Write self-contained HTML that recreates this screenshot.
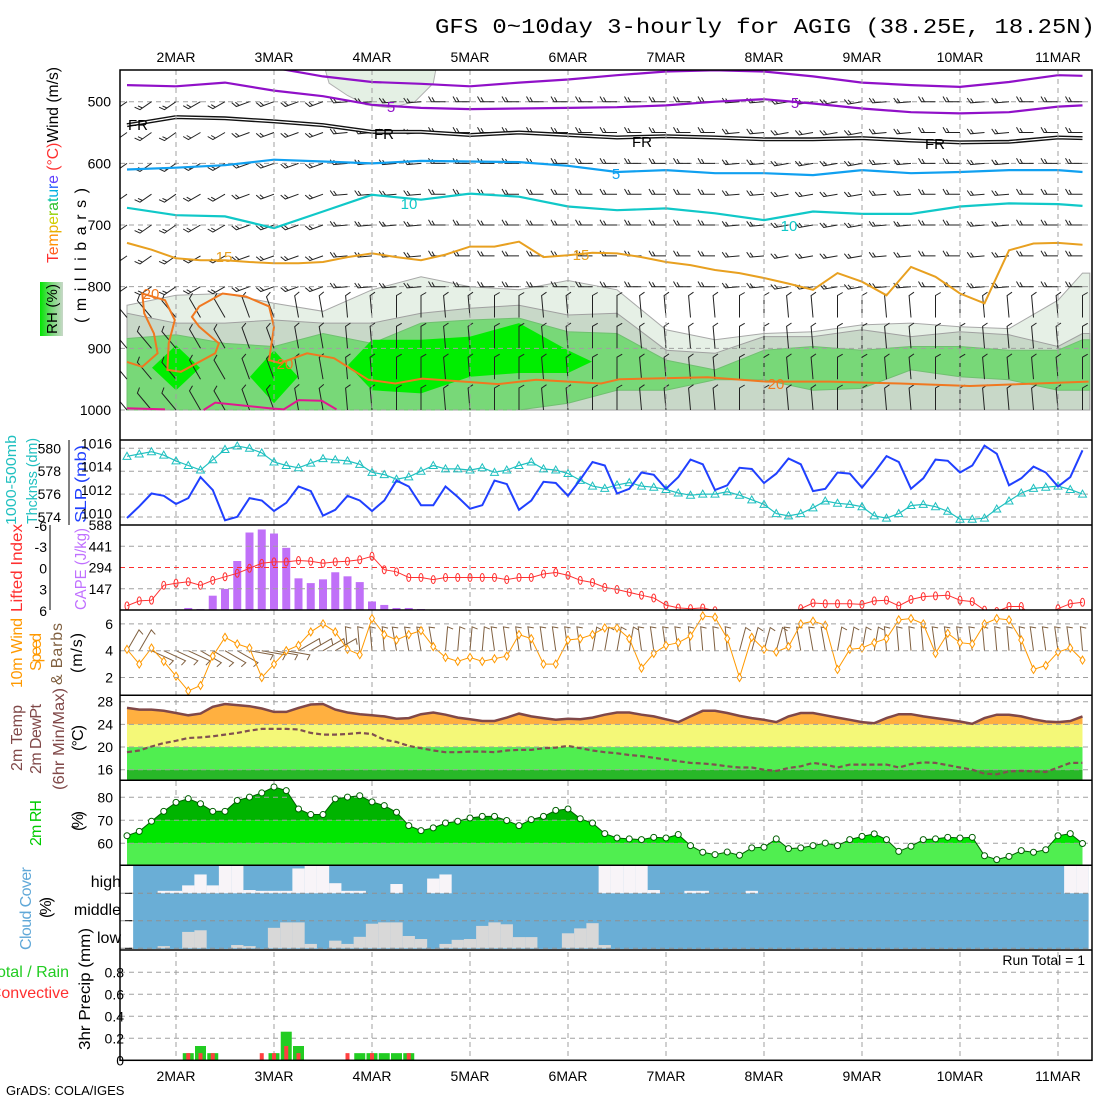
<!DOCTYPE html>
<html><head><meta charset="utf-8"><title>GFS meteogram AGIG</title>
<style>
html,body{margin:0;padding:0;background:#fff;width:1100px;height:1100px;overflow:hidden}
svg{display:block;font-family:"Liberation Sans",sans-serif}
.tk{font-size:14px;fill:#000}
.lab{font-size:16px}
</style></head>
<body>
<svg id="chart" width="1100" height="1100" viewBox="0 0 1100 1100" xmlns="http://www.w3.org/2000/svg">
<defs>
<clipPath id="c1"><rect x="120" y="70" width="972" height="370"/></clipPath>
<clipPath id="c2"><rect x="120" y="440" width="972" height="85"/></clipPath>
<clipPath id="c3"><rect x="120" y="525" width="972" height="85"/></clipPath>
<clipPath id="c4"><rect x="120" y="610" width="972" height="85"/></clipPath>
<linearGradient id="rhg" x1="0" x2="1" y1="0" y2="0"><stop offset="0" stop-color="#00e600"/><stop offset="0.5" stop-color="#78d878"/><stop offset="1" stop-color="#c8d8c8"/></linearGradient>
</defs>
<text x="435" y="33" font-family="Liberation Mono, monospace" font-size="21" textLength="660" lengthAdjust="spacingAndGlyphs">GFS 0~10day 3-hourly for AGIG (38.25E, 18.25N)</text>

<!-- left labels -->
<text transform="translate(58,263) rotate(-90)" font-size="16" textLength="196" lengthAdjust="spacingAndGlyphs"><tspan fill="#ff3030">T</tspan><tspan fill="#ff6020">e</tspan><tspan fill="#ff9000">m</tspan><tspan fill="#e8b000">p</tspan><tspan fill="#d0d000">e</tspan><tspan fill="#90d000">r</tspan><tspan fill="#30c030">a</tspan><tspan fill="#00c0a0">t</tspan><tspan fill="#00b0e0">u</tspan><tspan fill="#2060ff">r</tspan><tspan fill="#6040ff">e</tspan><tspan fill="#ff3030"> (°C)</tspan><tspan fill="#000">Wind (m/s)</tspan></text>
<text transform="translate(86,323) rotate(-90)" font-size="16" textLength="135" lengthAdjust="spacing">(millibars)</text>
<rect x="40" y="282" width="23" height="54" fill="url(#rhg)"/>
<text transform="translate(57,334) rotate(-90)" font-size="15" textLength="50">RH (%)</text>

<text transform="translate(16,525) rotate(-90)" font-size="15" fill="#20c0c0" textLength="90" lengthAdjust="spacingAndGlyphs">1000-500mb</text>
<text transform="translate(37,524) rotate(-90)" font-size="15" fill="#20c0c0" textLength="86" lengthAdjust="spacingAndGlyphs">Thcknss (dm)</text>
<text transform="translate(86,523) rotate(-90)" font-size="16" fill="#2040ff" textLength="78" lengthAdjust="spacingAndGlyphs">SLP (mb)</text>
<text transform="translate(22,612) rotate(-90)" font-size="16" fill="#ff3030" textLength="88" lengthAdjust="spacingAndGlyphs">Lifted Index</text>
<text transform="translate(86,610) rotate(-90)" font-size="16" fill="#c070ff" textLength="82" lengthAdjust="spacingAndGlyphs">CAPE (J/kg)</text>
<text transform="translate(22,688) rotate(-90)" font-size="16" fill="#ff9900" textLength="70">10m Wind</text>
<text transform="translate(41,671) rotate(-90)" font-size="16" fill="#ff9900" textLength="38">Speed</text>
<text transform="translate(62,685) rotate(-90)" font-size="16" fill="#806040" textLength="62">&amp; Barbs</text>
<text transform="translate(82,673) rotate(-90)" font-size="16" textLength="40">(m/s)</text>
<text transform="translate(22,771) rotate(-90)" font-size="16" fill="#804848" textLength="66">2m Temp</text>
<text transform="translate(41,774) rotate(-90)" font-size="16" fill="#804848" textLength="70">2m DewPt</text>
<text transform="translate(64,790) rotate(-90)" font-size="16" fill="#804848" textLength="102" lengthAdjust="spacingAndGlyphs">(6hr Min/Max)</text>
<text transform="translate(83,751) rotate(-90)" font-size="16" textLength="26">(°C)</text>
<text transform="translate(41,846) rotate(-90)" font-size="16" fill="#00cc00" textLength="46">2m RH</text>
<text transform="translate(83,831) rotate(-90)" font-size="16" textLength="20">(%)</text>
<text transform="translate(31,950) rotate(-90)" font-size="16" fill="#60a8d8" textLength="83">Cloud Cover</text>
<text transform="translate(51,918) rotate(-90)" font-size="16" textLength="21">(%)</text>
<text x="121" y="887" font-size="16" text-anchor="end">high</text>
<text x="121" y="915" font-size="16" text-anchor="end">middle</text>
<text x="121" y="943" font-size="16" text-anchor="end">low</text>
<text x="69" y="977" font-size="16" fill="#22cc22" text-anchor="end">Total / Rain</text>
<text x="69" y="998" font-size="16" fill="#ff3030" text-anchor="end">Convective</text>
<text transform="translate(90,1050) rotate(-90)" font-size="16" textLength="122" lengthAdjust="spacingAndGlyphs">3hr Precip (mm)</text>
<text x="1085" y="965" font-size="14" text-anchor="end">Run Total = 1</text>
<text x="6" y="1095" font-size="13">GrADS: COLA/IGES</text>
</svg>
<script>
// ---------------- data ----------------
const dayLabels = ['2MAR','3MAR','4MAR','5MAR','6MAR','7MAR','8MAR','9MAR','10MAR','11MAR'];
const pLevels = [500,600,700,800,900,1000];
// cross-section coarse time grid (3-hourly step index)
const cIdx = [0,4,8,12,16,20,24,28,32,36,40,44,48,52,56,60,64,68,72,76,78];
const rh30Top = [830,814,811,827,840,805,784,800,805,790,805,870,886,876,873,862,859,865,868,822,778];
const rh50Top = [843,859,859,854,859,859,843,835,830,846,843,903,908,881,881,870,881,873,878,897,876];
const rh70Top = [884,878,892,897,876,892,859,854,851,873,876,919,935,903,897,903,897,897,903,903,886];
const rh70Bot = [1000,1000,1000,1000,1000,1000,1000,1000,1000,989,968,968,951,951,968,965,935,946,951,968,968];
const rh80Top = [null,895,null,903,null,886,886,881,859,903,null,null,null,null,null,null,null,null,null,null,null];
const rh80Bot = [null,968,null,989,null,968,973,946,940,940,null,null,null,null,null,null,null,null,null,null,null];
const rhUpI = [16.2,25.2,25,23.5,21.5,19.5,18,16.5];
const rhUpP = [449,449,470,500,510,505,490,470];
const tM10 = [440,440,440,445,459,468,471,475,469,464,457,451,449,451,459,469,473,476,468,457,458];
const tM5 = [473,475,469,482,491,505,510,512,511,510,509,506,500,496,503,511,517,519,517,508,506];
const t0 = [538,525,527,532,538,549,549,554,550,554,558,556,558,561,561,559,563,566,565,558,559];
const t5 = [610,607,603,594,597,600,596,597,598,604,614,611,616,616,619,611,616,614,611,611,614];
const t10 = [672,684,686,705,678,651,659,649,654,670,676,673,681,692,678,682,682,670,665,666,669];
const t15 = [729,740,754,757,757,760,762,762,760,752,746,752,757,748,735,735,727,752,749,745,746,752,760,765,773,778,786,795,805,778,792,814,768,784,811,827,741,730,729,732];
const t20I = [0,1.25,2.5,2.2,1.4,1.25,3.1,3.9,3.4,3.3,4.4,7.2,7.5,5.9,5.3,5.9,7.8,9.7,11.6,12.0,11.6,12.5,14.7,16.9,19.7,21.9,24.1,30.3,33.4,38.7,40.2,47.4,52.2,57.4,63.1,68.8,78.5];
const t20P = [922,930,908,876,843,811,822,854,892,935,938,908,892,865,849,832,811,816,832,865,919,924,908,916,951,957,949,958,951,957,950,947,954,954,957,961,954];
const t25aI = [0,3.1], t25aP = [997,999];
const t25bI = [6.25,7.2,11.6,12.8,14,15.9,17.1], t25bP = [1000,988,997,999,984,985,999];
const barbLevels = [500,550,600,650,700,750,800,850,900,950,1000];
const barbDirUpper = [235,235,240,250,250,265,265,270,270,270,270,270,270,265,260,260,265,270,265,270,270];
const barbDirLower = [320,320,330,340,350,355,0,355,0,355,0,355,355,0,355,0,355,0,355,355,0];

const slp = [1009.6,1010.6,1011.7,1011.5,1010.8,1011.3,1013.1,1012.0,1009.4,1009.7,1011.3,1011.1,1010.2,1010.9,1012.3,1011.9,1009.8,1010.3,1011.5,1011.1,1010.2,1011.1,1012.8,1012.3,1010.7,1010.7,1012.3,1011.4,1010.4,1010.7,1012.8,1012.5,1010.3,1011.1,1012.7,1012.6,
1011.5,1012.9,1014.4,1014.1,1011.7,1012.1,1013.5,1013.3,1012.1,1013.1,1014.6,1014.2,1012.0,1012.4,1013.9,1013.8,1012.6,1013.4,1014.7,1014.2,1011.9,1012.1,1013.5,1013.4,1012.2,1013.5,1014.9,1014.4,1012.1,1013.0,1014.6,1014.5,1013.5,1014.1,1015.8,1015.1,1012.4,1013.0,1014.0,1013.5,1012.3,1013.1,1015.4];
const thick = [579.3,579.5,579.7,579.4,578.9,578.5,578.1,579.0,579.9,580.2,580.0,579.6,578.8,578.5,578.3,578.7,579.1,579.0,578.9,578.6,577.9,577.7,577.3,577.5,578.0,578.5,578.2,578.2,578.1,578.3,577.9,578.1,578.5,578.8,578.2,
578.1,577.8,577.2,576.7,576.5,576.8,577.0,576.7,576.6,576.4,576.1,575.9,576.0,576.0,576.2,575.9,575.5,575.1,574.3,574.1,574.3,574.8,575.4,575.2,575.1,574.9,574.1,573.9,574.3,575.0,575.1,574.9,574.5,573.8,573.8,573.9,574.7,575.4,576.1,576.5,576.6,576.7,576.4,576.0];
const slpTicks = [1016,1014,1012,1010];
const thickTicks = [580,578,576,574];
const liVals = [5.3,4.6,4.5,2.4,2.1,1.9,2.4,1.7,1.2,0.7,0.0,-0.7,-0.9,-0.9,-1.1,-1.0,-0.7,-0.9,-1.0,-1.2,-1.7,0.2,0.5,1.3,1.3,1.6,1.3,1.3,1.3,1.3,1.3,1.6,1.3,1.3,0.8,0.6,1.0,1.7,2.0,2.7,3.0,3.4,3.8,4.2,5.2,5.6,5.7,5.6,6.0,7,7,7,7,7,7,5.7,4.9,5.0,5.0,5.0,5.1,4.6,4.5,5.3,4.4,4.0,3.9,3.8,4.5,4.7,5.9,6.1,5.4,5.4,7,7,5.7,5.0,4.8];
const capeVals = [0,0,0,0,5,14,7,99,146,339,536,557,529,430,219,186,212,261,233,193,59,35,14,14,7,0,0,0,3,3,3,0,0,0,0,0,3,3,3,0,0,0,0,0,0,0,0,0,0,0,0,0,0,0,0,0,0,0,0,0,0,3,0,0,0,0,0,0,0,0,0,0,0,0,0,0,0,0,0];
const liTicks = ['-6','-3','0','3','6'];
const capeTicks = [588,441,294,147];
const windSpd = [4.1,3.0,4.2,3.2,2.1,1.0,1.4,3.6,5.0,4.5,4.2,2.0,3.0,4.0,4.4,5.4,6.0,5.4,4.1,3.7,6.4,5.2,4.8,5.2,5.5,4.3,3.5,3.2,3.5,3.2,3.4,3.6,5.2,4.9,3.0,3.0,
4.8,4.9,5.2,5.7,5.7,4.9,2.7,3.8,4.4,4.6,5.1,6.6,6.5,4.9,2.0,5.0,4.1,3.9,4.3,6.0,6.2,5.9,2.6,4.1,4.2,4.6,4.9,6.3,6.4,6.0,3.8,5.3,4.6,4.5,6.0,6.4,6.3,4.8,2.6,2.9,3.9,4.2,3.3];
const sfcBarbDir = [30,115,120,100,60,-5,-10,5,-8,-8,10,-8,-5,15,-10,10,-5,-8,-5,-8,-5];
const windTicks = [6,4,2];
const temp2m = [26.9,26.6,26.6,26.4,26.0,25.6,25.9,27.1,27.6,27.4,27.2,26.8,26.2,26.2,26.9,27.5,27.6,26.6,26.1,25.8,25.6,25.4,25.0,25.1,25.8,26.1,25.7,25.2,24.9,24.6,24.6,25.2,25.9,25.4,25.1,24.8,
25.0,24.9,25.2,25.7,26.1,26.1,25.7,25.4,24.9,24.4,25.4,26.4,26.4,26.0,25.5,25.1,24.8,24.4,25.4,26.0,26.0,25.6,25.2,24.8,24.4,24.2,25.1,25.8,25.8,25.4,25.1,24.8,24.5,24.1,25.1,25.7,25.7,25.4,24.9,24.5,24.4,24.6,25.4];
const dew2m = [19.1,19.4,20.1,20.7,21.1,21.6,21.7,21.9,22.2,22.5,22.9,23.2,23.2,23.2,23.1,22.5,22.2,22.2,22.3,22.5,22.3,21.3,20.9,20.2,19.8,19.4,19.1,19.1,19.2,19.2,19.1,19.4,19.5,19.5,19.8,19.9,20.2,
19.8,19.4,19.1,18.9,18.6,18.4,18.1,17.8,17.5,17.2,17.1,16.9,16.6,16.4,16.4,16.0,15.8,16.3,16.6,17.2,16.9,16.4,16.9,16.9,16.9,16.9,16.4,17.0,17.3,17.2,16.8,16.4,16.0,15.3,15.2,15.7,15.8,15.7,15.6,16.4,17.2,17.2];
const tempTicks = [28,24,20,16];
const rh2m = [63.3,65.2,69.6,73.9,77.8,79.4,77.2,73.9,73.9,78.6,80.1,81.9,84.5,82.9,74.9,72.5,72.5,79.3,80.1,80.7,78.0,76.4,73.5,67.7,65.5,66.7,68.8,69.6,71.0,71.7,71.7,69.9,67.7,70.3,71.7,74.3,
74.9,70.7,68.8,64.2,62.3,61.9,61.6,62.6,62.3,63.8,59.0,56.1,55.1,56.2,54.8,58.0,58.3,61.9,57.7,58.0,59.0,60.1,59.0,61.6,63.0,64.1,61.6,56.5,58.7,61.6,61.9,62.6,62.3,62.6,54.6,52.9,54.3,56.8,56.1,57.2,63.3,64.2,59.9];
const rhTicks = [80,70,60];
const cloudHigh = [0,0,0,9,9,29,69,29,100,100,12,9,9,9,91,100,100,37,9,9,0,0,34,0,0,54,69,0,0,0,0,0,0,0,0,0,0,0,0,100,100,100,100,12,0,0,9,9,0,0,0,9,0,0,0,0,0,0,0,0,0,0,0,0,0,0,0,0,0,0,0,0,0,0,0,0,0,100,100];
const cloudMid = new Array(79).fill(0);
const cloudLow = [0,0,0,8,0,60,66,0,0,12,8,0,75,95,95,16,0,28,16,42,90,95,95,45,34,0,16,31,34,82,95,88,41,41,0,0,55,73,92,12,0,0,0,0,0,0,0,0,0,0,0,0,0,0,0,0,0,0,0,0,0,0,0,0,0,0,0,0,0,0,0,0,0,0,0,0,0,0,0];
const precipTot = [0,0,0,0,0,0.065,0.13,0.065,0,0,0,0,0.065,0.26,0.13,0,0,0,0,0.065,0.065,0.065,0.065,0.065,0,0,0,0,0,0,0,0,0,0,0,0,0,0,0,0,0,0,0,0,0,0,0,0,0,0,0,0,0,0,0,0,0,0,0,0,0,0,0,0,0,0,0,0,0,0,0,0,0,0,0,0,0,0,0];
const precipConv = [0,0,0,0,0,0.065,0.065,0.065,0,0,0,0.065,0.065,0.13,0.065,0,0,0,0.065,0,0.065,0,0,0.065,0,0,0,0,0,0,0,0,0,0,0,0,0,0,0,0,0,0,0,0,0,0,0,0,0,0,0,0,0,0,0,0,0,0,0,0,0,0,0,0,0,0,0,0,0,0,0,0,0,0,0,0,0,0,0];
const precipTicks = ['0.8','0.6','0.4','0.2','0'];

// ---------------- scales ----------------
const svg = document.getElementById('chart');
const NS = 'http://www.w3.org/2000/svg';
const X = i => 127 + 12.25 * i;
const yP = p => 101.7 + (p - 500) * 0.6166;
const ySLP = v => 443.3 + (1016 - v) * 11.67;
const yTh = v => 448.3 + (580 - v) * 11.45;
const yLI = v => 568.3 + v * 7.08;
const yCAPE = v => 610 - v * 85 / 588;
const yWS = v => 650.7 - (v - 4) * 13.4;
const yT = v => 701.7 + (28 - v) * 5.67;
const yRH = v => 797.3 + (80 - v) * 2.3;
const yPr = v => 1060.3 - v * 110;

function mk(tag, a, parent) {
  const e = document.createElementNS(NS, tag);
  for (const k in a) e.setAttribute(k, a[k]);
  (parent || svg).appendChild(e);
  return e;
}
function nm(e, n) {
  
  
  return e;
}
function line(xs, ys) {
  let d = '', pen = false;
  for (let k = 0; k < xs.length; k++) {
    if (ys[k] === null) { pen = false; continue; }
    d += (pen ? 'L' : 'M') + xs[k].toFixed(1) + ',' + ys[k].toFixed(1);
    pen = true;
  }
  return d;
}
const idx79 = Array.from({length: 79}, (_, i) => i);
const xs79 = idx79.map(X);

function grp(name, clip) {
  const g = mk('g', clip ? {'clip-path': 'url(#' + clip + ')'} : {});
  nm(g, name);
  return g;
}

// ---------- panel 1: cross-section ----------
const g1 = grp('cross-section-panel', 'c1');
const cx = cIdx.map(X);
const xEdge = X(78.6);
function rhPoly(top, bot, col, stroke, name) {
  let pts = [];
  pts.push([X(0), yP(top[0])]);
  for (let k = 0; k < cIdx.length; k++) pts.push([cx[k], yP(top[k])]);
  pts.push([xEdge, yP(top[top.length - 1])]);
  const b = Array.isArray(bot) ? bot : cIdx.map(() => bot);
  pts.push([xEdge, yP(b[b.length - 1])]);
  for (let k = cIdx.length - 1; k >= 0; k--) pts.push([cx[k], yP(b[k])]);
  const el = mk('polygon', {points: pts.map(p => p[0].toFixed(1) + ',' + p[1].toFixed(1)).join(' '), fill: col, stroke: stroke, 'stroke-width': 1}, g1);
  nm(el, name);
}
rhPoly(rh30Top, 1000, '#e6f0e6', '#a8a8a8', 'rh-30-shading');
rhPoly(rh50Top, 1000, '#c8d8c8', '#a0a0a0', 'rh-50-shading');
rhPoly(rh70Top, rh70Bot, '#78d878', '#70c070', 'rh-70-shading');
// rh80 runs
{
  let k = 0;
  while (k < cIdx.length) {
    if (rh80Top[k] === null) { k++; continue; }
    let a = k; while (k < cIdx.length && rh80Top[k] !== null) k++;
    let b = k - 1;
    const w = 24;
    let pts = [];
    pts.push([cx[a] - w, yP((rh80Top[a] + rh80Bot[a]) / 2)]);
    for (let j = a; j <= b; j++) pts.push([cx[j], yP(rh80Top[j])]);
    pts.push([cx[b] + w, yP((rh80Top[b] + rh80Bot[b]) / 2)]);
    for (let j = b; j >= a; j--) pts.push([cx[j], yP(rh80Bot[j])]);
    const el = mk('polygon', {points: pts.map(p => p[0].toFixed(1) + ',' + p[1].toFixed(1)).join(' '), fill: '#00ee00'}, g1);
    nm(el, 'rh-80-shading');
  }
}
{
  const el = mk('polygon', {points: rhUpI.map((v, k) => X(v).toFixed(1) + ',' + yP(rhUpP[k]).toFixed(1)).join(' '), fill: '#e4f0e4', stroke: '#b0b0b0'}, g1);
  nm(el, 'rh-upper-shading');
}
// gridlines panel1
pLevels.forEach(p => {
  const el = mk('line', {x1: 120, x2: 1092, y1: yP(p), y2: yP(p), stroke: '#a0a0a0', 'stroke-dasharray': '5,4'}, g1);
  nm(el, 'pressure-gridline');
});
// wind barbs
barbLevels.forEach(lv => {
  for (let i = 0; i <= 78; i += 2) {
    const k = Math.min(20, Math.round(i / 4));
    const low = lv >= 850;
    const dir = (low ? barbDirLower[k] : barbDirUpper[k]) * Math.PI / 180;
    const L = low ? 22 : 14;
    const x0 = X(i), y0 = yP(lv);
    const ex = x0 + L * Math.sin(dir), ey = y0 - L * Math.cos(dir);
    const bd = dir + Math.PI / 3;
    let d = 'M' + x0.toFixed(1) + ',' + y0.toFixed(1) + 'L' + ex.toFixed(1) + ',' + ey.toFixed(1);
    d += 'l' + (6 * Math.sin(bd)).toFixed(1) + ',' + (-6 * Math.cos(bd)).toFixed(1);
    if (!low) {
      const mx = x0 + (L - 3) * Math.sin(dir), my = y0 - (L - 3) * Math.cos(dir);
      d += 'M' + mx.toFixed(1) + ',' + my.toFixed(1) + 'l' + (5 * Math.sin(bd)).toFixed(1) + ',' + (-5 * Math.cos(bd)).toFixed(1);
    }
    const el = mk('path', {d: d, stroke: '#222', 'stroke-width': 1, fill: 'none'}, g1);
    nm(el, 'upper-wind-barb');
  }
});
// temperature contours
function tline(vals, col, name, w) {
  const el = mk('path', {d: line(cx, vals.map(yP)), stroke: col, 'stroke-width': w || 2.2, fill: 'none'}, g1);
  nm(el, name);
  return el;
}
tline(tM10, '#9010c8', 'temp-contour-minus10');
tline(tM5, '#9010c8', 'temp-contour-minus5');
{
  const d = line(cx, t0.map(yP));
  const a = mk('path', {d: d, stroke: '#111', 'stroke-width': 4, fill: 'none'}, g1);
  nm(a, 'freezing-level-outer');
  const b = mk('path', {d: d, stroke: '#fff', 'stroke-width': 1.2, fill: 'none'}, g1);
  nm(b, 'freezing-level-inner');
}
tline(t5, '#10a0f0', 'temp-contour-5');
tline(t10, '#10c8c8', 'temp-contour-10');
{
  const gx = t15.map((_, k) => X(k * 2));
  const el = mk('path', {d: line(gx, t15.map(yP)), stroke: '#e8a020', 'stroke-width': 2, fill: 'none'}, g1);
  nm(el, 'temp-contour-15');
}
{
  const el = mk('path', {d: line(t20I.map(X), t20P.map(yP)), stroke: '#f07820', 'stroke-width': 2, fill: 'none'}, g1);
  nm(el, 'temp-contour-20');
  const a = mk('path', {d: line(t25aI.map(X), t25aP.map(yP)), stroke: '#e01890', 'stroke-width': 2, fill: 'none'}, g1);
  nm(a, 'temp-contour-25a');
  const b = mk('path', {d: line(t25bI.map(X), t25bP.map(yP)), stroke: '#e01890', 'stroke-width': 2, fill: 'none'}, g1);
  nm(b, 'temp-contour-25b');
}
const cLabels = [['5', 391, 112, '#9010c8'], ['5', 795, 108, '#9010c8'], ['FR', 138, 130, '#000'], ['FR', 384, 139, '#000'], ['FR', 642, 147, '#000'], ['FR', 935, 149, '#000'],
  ['5', 616, 179, '#10a0f0'], ['10', 409, 209, '#10c8c8'], ['10', 789, 231, '#10c8c8'], ['15', 224, 262, '#e8a020'], ['15', 581, 260, '#e8a020'], ['20', 151, 299, '#f07820'], ['20', 285, 369, '#f07820'], ['20', 776, 389, '#f07820']];
cLabels.forEach(c => {
  const t = mk('text', {x: c[1], y: c[2], 'font-size': 15, fill: c[3], 'text-anchor': 'middle'}, g1);
  nm(t, 'contour-label');
  t.textContent = c[0];
});

// ---------- common grid / frame ----------
const gGrid = grp('day-gridlines', null);
dayLabels.forEach((d, k) => {
  const x = X(4 + 8 * k);
  const el = mk('line', {x1: x, x2: x, y1: 70, y2: 1060, stroke: '#a0a0a0', 'stroke-dasharray': '5,4'}, gGrid);
  nm(el, 'day-gridline');
  const t1 = mk('text', {x: x, y: 62, class: 'tk', 'text-anchor': 'middle'});
  nm(t1, 'top-date-label');
  t1.textContent = d;
  const t2 = mk('text', {x: x, y: 1081, class: 'tk', 'text-anchor': 'middle'});
  nm(t2, 'bottom-date-label');
  t2.textContent = d;
});
function hgrid(y, col, name) {
  const el = mk('line', {x1: 120, x2: 1092, y1: y, y2: y, stroke: col || '#a0a0a0', 'stroke-dasharray': '5,4'});
  nm(el, name);
}
function tick(x, y, txt, name, anchor) {
  const t = mk('text', {x: x, y: y + 5, class: 'tk', 'text-anchor': anchor || 'end'});
  nm(t, name);
  t.textContent = txt;
}
pLevels.forEach(p => tick(111, yP(p), String(p), 'pressure-tick'));

// ---------- panel 2 ----------
thickTicks.forEach(v => { hgrid(yTh(v), null, 'thickness-gridline'); tick(61, yTh(v), String(v), 'thickness-tick'); });
slpTicks.forEach(v => tick(112, ySLP(v), String(v), 'slp-tick'));
{
  const ax = mk('line', {x1: 69, x2: 69, y1: 440, y2: 525, stroke: '#000'});
  nm(ax, 'thickness-axis');
  const ax2 = mk('line', {x1: 50, x2: 50, y1: 525, y2: 610, stroke: '#000'});
  nm(ax2, 'li-axis');
}
const g2 = grp('thickness-slp-panel', 'c2');
{
  const a = mk('path', {d: line(xs79, thick.map(yTh)), stroke: '#20c0c0', 'stroke-width': 1.2, fill: 'none'}, g2);
  nm(a, 'thickness-line');
  thick.forEach((v, i) => {
    const x = X(i), y = yTh(v);
    const m = mk('path', {d: 'M' + (x - 4) + ',' + (y + 3) + 'L' + x + ',' + (y - 4) + 'L' + (x + 4) + ',' + (y + 3) + 'Z', stroke: '#20c0c0', fill: 'none'}, g2);
    nm(m, 'thickness-marker');
  });
  const b = mk('path', {d: line(xs79, slp.map(ySLP)), stroke: '#2040ff', 'stroke-width': 2, fill: 'none'}, g2);
  nm(b, 'slp-line');
}

// ---------- panel 3 ----------
const g3 = grp('cape-li-panel', 'c3');
capeTicks.forEach(v => { if (v < 588) hgrid(yCAPE(v), v === 294 ? '#ff3030' : null, 'cape-gridline'); tick(112, yCAPE(v), String(v), 'cape-tick'); });
liTicks.forEach(v => tick(47, yLI(+v), v, 'li-tick'));
capeVals.forEach((v, i) => {
  if (v <= 0) return;
  const r = mk('rect', {x: X(i) - 4, y: yCAPE(v), width: 8, height: 610 - yCAPE(v), fill: '#c070f8'}, g3);
  nm(r, 'cape-bar');
});
{
  const a = mk('path', {d: line(xs79, liVals.map(yLI)), stroke: '#ff3030', 'stroke-width': 1, fill: 'none'}, g3);
  nm(a, 'lifted-index-line');
  liVals.forEach((v, i) => {
    const m = mk('ellipse', {cx: X(i), cy: yLI(v), rx: 2, ry: 4, stroke: '#ff3030', fill: 'none'}, g3);
    nm(m, 'li-marker');
  });
}

// ---------- panel 4 ----------
const g4 = grp('wind-panel', 'c4');
windTicks.forEach(v => { hgrid(yWS(v), null, 'wind-gridline'); tick(113, yWS(v), String(v), 'wind-tick'); });
idx79.forEach(i => {
  const k = Math.min(20, Math.round(i / 4));
  const a = sfcBarbDir[k] * Math.PI / 180;
  const L = 24, x0 = X(i), y0 = 650.7;
  const ex = x0 + L * Math.sin(a), ey = y0 - L * Math.cos(a);
  const ba = a + Math.PI * 0.6;
  const b = mk('path', {d: 'M' + x0 + ',' + y0 + 'L' + ex.toFixed(1) + ',' + ey.toFixed(1) + 'l' + (6 * Math.sin(ba)).toFixed(1) + ',' + (-6 * Math.cos(ba)).toFixed(1), stroke: '#806040', 'stroke-width': 1, fill: 'none'}, g4);
  nm(b, 'surface-wind-barb');
});
{
  const a = mk('path', {d: line(xs79, windSpd.map(yWS)), stroke: '#ff9900', 'stroke-width': 1, fill: 'none'}, g4);
  nm(a, 'wind-speed-line');
  windSpd.forEach((v, i) => {
    const x = X(i), y = yWS(v);
    const m = mk('path', {d: 'M' + x + ',' + (y - 4) + 'L' + (x + 2.5) + ',' + y + 'L' + x + ',' + (y + 4) + 'L' + (x - 2.5) + ',' + y + 'Z', stroke: '#ff9900', fill: '#fff'}, g4);
    nm(m, 'wind-speed-marker');
  });
}

// ---------- panel 5 ----------
{
  const cp = mk('clipPath', {id: 'tclip'});
  const ar = mk('path', {d: 'M' + X(0) + ',780.3' + line(xs79, temp2m.map(yT)).replace('M', 'L') + 'L' + X(78) + ',780.3Z'}, cp);
  nm(ar, 'temp-area-clip');
  const g5 = grp('temperature-fill', 'tclip');
  const bands = [[690, yT(24), '#ffb040'], [yT(24), yT(20), '#f4f878'], [yT(20), yT(16), '#50ee50'], [yT(16), 780.3, '#28b828']];
  bands.forEach(b => {
    const r = mk('rect', {x: X(0), y: b[0], width: X(78) - X(0), height: b[1] - b[0], fill: b[2]}, g5);
    nm(r, 'temperature-band');
  });
}
tempTicks.forEach(v => { hgrid(yT(v), null, 'temp-gridline'); tick(113, yT(v), String(v), 'temp-tick'); });
{
  const a = mk('path', {d: line(xs79, temp2m.map(yT)), stroke: '#804848', 'stroke-width': 2.5, fill: 'none'});
  nm(a, 'temp-line');
  const b = mk('path', {d: line(xs79, dew2m.map(yT)), stroke: '#805050', 'stroke-width': 2.2, 'stroke-dasharray': '5,3', fill: 'none'});
  nm(b, 'dewpoint-line');
}

// ---------- panel 6 ----------
{
  const cp = mk('clipPath', {id: 'rclip'});
  const ar = mk('path', {d: 'M' + X(0) + ',865.3' + line(xs79, rh2m.map(yRH)).replace('M', 'L') + 'L' + X(78) + ',865.3Z'}, cp);
  nm(ar, 'rh-area-clip');
  const g6 = grp('rh-fill', 'rclip');
  const bands = [[780, yRH(70), '#00b400'], [yRH(70), yRH(60), '#00e600'], [yRH(60), 865.3, '#50ee50']];
  bands.forEach(b => {
    const r = mk('rect', {x: X(0), y: b[0], width: X(78) - X(0), height: b[1] - b[0], fill: b[2]}, g6);
    nm(r, 'rh-band');
  });
}
rhTicks.forEach(v => { hgrid(yRH(v), null, 'rh-gridline'); tick(113, yRH(v), String(v), 'rh-tick'); });
{
  const a = mk('path', {d: line(xs79, rh2m.map(yRH)), stroke: '#006000', 'stroke-width': 1, fill: 'none'});
  nm(a, 'rh-line');
  rh2m.forEach((v, i) => {
    const c = mk('circle', {cx: X(i), cy: yRH(v), r: 3, fill: '#fff', stroke: '#006000'});
    nm(c, 'rh-marker');
  });
}

// ---------- panel 7 ----------
{
  const bg = mk('rect', {x: X(0.5), y: 866, width: X(78.5) - X(0.5), height: 83, fill: '#6aaed6'});
  nm(bg, 'cloud-background');
  const bands = [[893.3, cloudHigh, '#f8f4f8', 'high-cloud-bar'], [920.7, cloudMid, '#e0e0e0', 'mid-cloud-bar'], [948.3, cloudLow, '#d8d8d8', 'low-cloud-bar']];
  bands.forEach(b => {
    b[1].forEach((v, i) => {
      if (v <= 0) return;
      const h = v / 100 * 27.3;
      const r = mk('rect', {x: X(i - 0.5), y: b[0] - h, width: 12.3, height: h, fill: b[2]});
      nm(r, b[3]);
    });
  });
  [893.3, 920.7, 948.3].forEach(y => {
    hgrid(y, '#909090', 'cloud-band-gridline');
    const t = mk('line', {x1: 125, x2: 132, y1: y, y2: y, stroke: '#000'});
    nm(t, 'cloud-band-tick');
  });
}

// ---------- panel 8 ----------
precipTicks.forEach(s => { const v = +s; if (v > 0) hgrid(yPr(v), null, 'precip-gridline'); tick(124, yPr(v), s, 'precip-tick'); });
precipTot.forEach((v, i) => {
  if (v <= 0) return;
  const r = mk('rect', {x: X(i) - 5.5, y: yPr(v), width: 11, height: 1060.3 - yPr(v), fill: '#22cc22'});
  nm(r, 'precip-total-bar');
});
precipConv.forEach((v, i) => {
  if (v <= 0) return;
  const r = mk('rect', {x: X(i) - 2, y: yPr(v), width: 4, height: 1060.3 - yPr(v), fill: '#ff4040'});
  nm(r, 'precip-conv-bar');
});

// ---------- frames ----------
{
  const f = mk('rect', {x: 120, y: 70, width: 972, height: 990.3, fill: 'none', stroke: '#000', 'stroke-width': 1.5});
  nm(f, 'chart-frame');
  [440, 525, 610, 695.3, 780.3, 865.3, 950].forEach(y => {
    const l = mk('line', {x1: 120, x2: 1092, y1: y, y2: y, stroke: '#000', 'stroke-width': 1.5});
    nm(l, 'panel-separator');
  });
}
</script>
</body></html>
